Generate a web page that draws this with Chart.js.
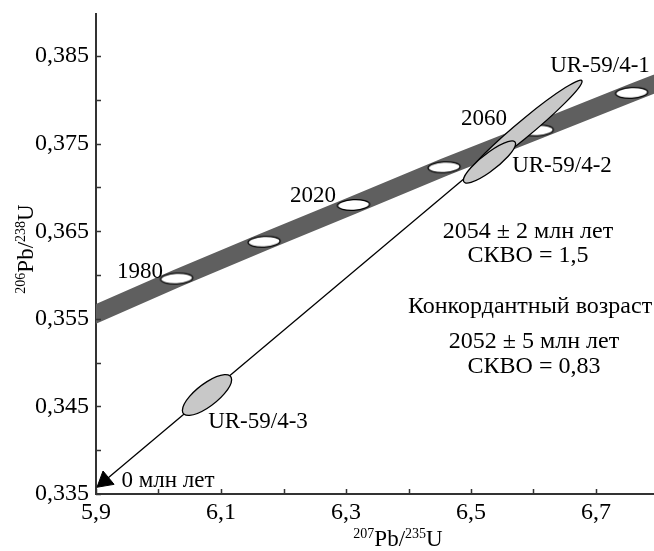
<!DOCTYPE html>
<html>
<head>
<meta charset="utf-8">
<script src="https://cdn.jsdelivr.net/npm/chart.js@4.4.1/dist/chart.umd.min.js"></script>
<style>
    body { margin: 0; background: #fff; }
    #wrap { width: 654px; height: 551px; }
</style>
</head>
<body>
<div id="wrap"><canvas id="myChart01" width="654" height="551"></canvas></div>
<script>
// concordia (ages in Ma)
const concAges = [1950, 1980, 2000, 2020, 2040, 2060, 2080, 2100];
const concX = [5.824, 6.029, 6.169, 6.312, 6.457, 6.606, 6.757, 6.911];
const concY = [0.3532, 0.3596, 0.3638, 0.3680, 0.3723, 0.3765, 0.3808, 0.3851];
const markerAges = [1980, 2000, 2020, 2040, 2060, 2080];

// discordia, from 0 Ma towards the upper intercept
const discX = [5.9139, 6.5607];
const discY = [0.3365, 0.3753];

// analyses: centre, half-extents and correlation
const samples = ['UR-59/4-1', 'UR-59/4-2', 'UR-59/4-3'];
const sampX = [6.5864, 6.5296, 6.0776];
const sampY = [0.37678, 0.3729, 0.3463];
const sampSx = [0.0913, 0.0418, 0.0394];
const sampSy = [0.00546, 0.00241, 0.00233];
const sampRho = [0.975, 0.867, 0.753];

const xTickValues = [5.9, 6.0, 6.1, 6.2, 6.3, 6.4, 6.5, 6.6, 6.7];
const xTickLabels = ['5,9', '', '6,1', '', '6,3', '', '6,5', '', '6,7'];
const yTickValues = [0.335, 0.34, 0.345, 0.35, 0.355, 0.36, 0.365, 0.37, 0.375, 0.38, 0.385];
const yTickLabels = ['0,335', '', '0,345', '', '0,355', '', '0,365', '', '0,375', '', '0,385'];

const FONT = "'Liberation Serif', 'Times New Roman', serif";

// white age marker on the concordia
const marker = document.createElement('canvas');
marker.width = 36;
marker.height = 14;
const mctx = marker.getContext('2d');
mctx.beginPath();
mctx.ellipse(18, 7, 16, 5.3, -0.05, 0, Math.PI * 2);
mctx.fillStyle = '#fff';
mctx.fill();
mctx.lineWidth = 1.3;
mctx.strokeStyle = '#000';
mctx.stroke();

function drawRich(ctx, parts, x, y) {
    let w = 0;
    parts.forEach(p => {
        ctx.font = (p.sup ? '14px ' : '23px ') + FONT;
        w += ctx.measureText(p.t).width;
    });
    let cx = x - w / 2;
    parts.forEach(p => {
        ctx.font = (p.sup ? '14px ' : '23px ') + FONT;
        ctx.fillText(p.t, cx, p.sup ? y - 8 : y);
        cx += ctx.measureText(p.t).width;
    });
}

const extras = {
    id: 'extras',
    afterDatasetsDraw(chart) {
        const ctx = chart.ctx;
        const xs = chart.scales.x, ys = chart.scales.y;
        ctx.save();
        for (let i = 0; i < samples.length; i++) {
            const px = xs.getPixelForValue(sampX[i]);
            const py = ys.getPixelForValue(sampY[i]);
            const kx = xs.getPixelForValue(sampX[i] + sampSx[i]) - px;
            const ky = ys.getPixelForValue(sampY[i] + sampSy[i]) - py;
            ctx.save();
            ctx.beginPath();
            ctx.transform(kx, ky * sampRho[i], 0, ky * Math.sqrt(1 - sampRho[i] * sampRho[i]), px, py);
            ctx.arc(0, 0, 1, 0, Math.PI * 2);
            ctx.restore();
            ctx.fillStyle = '#c8c8c8';
            ctx.fill();
            ctx.lineWidth = 1.3;
            ctx.strokeStyle = '#000';
            ctx.stroke();
        }
        ctx.restore();
    },
    afterDraw(chart) {
        const ctx = chart.ctx;
        const xs = chart.scales.x, ys = chart.scales.y;
        const a = chart.chartArea;
        ctx.save();
        // inward tick marks
        ctx.strokeStyle = '#333';
        ctx.lineWidth = 1.5;
        ctx.beginPath();
        xTickValues.forEach(v => {
            const p = Math.round(xs.getPixelForValue(v)) + 0.5;
            ctx.moveTo(p, a.bottom);
            ctx.lineTo(p, a.bottom - 5);
        });
        yTickValues.forEach(v => {
            const p = Math.round(ys.getPixelForValue(v)) + 0.5;
            ctx.moveTo(a.left, p);
            ctx.lineTo(a.left + 5, p);
        });
        ctx.stroke();

        ctx.fillStyle = '#000';
        ctx.textBaseline = 'alphabetic';
        ctx.textAlign = 'left';
        // axis titles
        drawRich(ctx, [{t: '207', sup: true}, {t: 'Pb/'}, {t: '235', sup: true}, {t: 'U'}], 398, 546);
        ctx.save();
        ctx.translate(33, 249);
        ctx.rotate(-Math.PI / 2);
        drawRich(ctx, [{t: '206', sup: true}, {t: 'Pb/'}, {t: '238', sup: true}, {t: 'U'}], 0, 0);
        ctx.restore();

        // annotations
        ctx.textAlign = 'center';
        const notes = [
            ['1980', 140, 278, 23],
            ['2020', 313, 202, 23],
            ['2060', 484, 125, 23],
            [samples[0], 600, 72, 23],
            [samples[1], 562, 172, 23],
            [samples[2], 258, 428, 23],
            ['0 млн лет', 168, 487, 23],
            ['2054 ± 2 млн лет', 528, 238, 24],
            ['СКВО = 1,5', 528, 262, 24],
            ['Конкордантный возраст', 530, 313, 24],
            ['2052 ± 5 млн лет', 534, 348, 24],
            ['СКВО = 0,83', 534, 373, 24]
        ];
        notes.forEach(n => {
            ctx.font = n[3] + 'px ' + FONT;
            ctx.fillText(n[0], n[1], n[2]);
        });
        ctx.restore();
    }
};

const grafico1 = document.getElementById('myChart01');

new Chart(grafico1, {
    type: 'scatter',
    data: {
        datasets: [{
            type: 'line',
            label: 'Конкордия',
            data: concX.map((x, i) => ({x: x, y: concY[i]})),
            borderColor: '#5f5f5f',
            borderWidth: 18,
            borderCapStyle: 'butt',
            borderJoinStyle: 'round',
            pointRadius: 0,
            clip: 0,
            order: 5
        },
        {
            label: 'Возраст',
            data: concAges.map((age, i) => ({x: concX[i], y: concY[i], age: age}))
                .filter(p => markerAges.includes(p.age)),
            pointStyle: marker,
            pointRadius: 10,
            order: 4
        },
        {
            type: 'line',
            label: 'Дискордия',
            data: discX.map((x, i) => ({x: x, y: discY[i]})),
            borderColor: '#000',
            borderWidth: 1.3,
            pointRadius: 0,
            order: 3
        },
        {
            label: '0 млн лет',
            data: [{x: discX[0], y: discY[0]}],
            pointStyle: 'triangle',
            pointRadius: 10,
            rotation: -129.6,
            backgroundColor: '#000',
            borderColor: '#000',
            borderWidth: 1,
            order: 0
        }]
    },
    options: {
        responsive: false,
        animation: false,
        events: [],
        layout: { autoPadding: false, padding: { top: 14, right: 0, left: 0, bottom: 0 } },
        plugins: {
            legend: { display: false },
            tooltip: { enabled: false }
        },
        scales: {
            x: {
                type: 'linear',
                min: 5.9,
                max: 6.7928,
                afterBuildTicks: s => { s.ticks = xTickValues.map(v => ({value: v})); },
                afterFit: s => {
                    s.height = 57;
                    s.paddingLeft = 0;
                    s.paddingRight = 0;
                },
                grid: { display: false, drawTicks: false },
                border: { display: true, color: '#333', width: 2 },
                ticks: {
                    autoSkip: false,
                    maxRotation: 0,
                    padding: 4,
                    color: '#000',
                    font: { family: FONT, size: 24 },
                    callback: (v, i) => xTickLabels[i]
                }
            },
            y: {
                type: 'linear',
                min: 0.335,
                max: 0.3898,
                afterBuildTicks: s => { s.ticks = yTickValues.map(v => ({value: v})); },
                afterFit: s => {
                    s.width = 96;
                    s.paddingTop = 0;
                    s.paddingBottom = 0;
                },
                grid: { display: false, drawTicks: false },
                border: { display: true, color: '#333', width: 2 },
                ticks: {
                    autoSkip: false,
                    padding: 7,
                    color: '#000',
                    font: { family: FONT, size: 24 },
                    callback: (v, i) => yTickLabels[i]
                }
            }
        }
    },
    plugins: [extras]
});
</script>
</body>
</html>
